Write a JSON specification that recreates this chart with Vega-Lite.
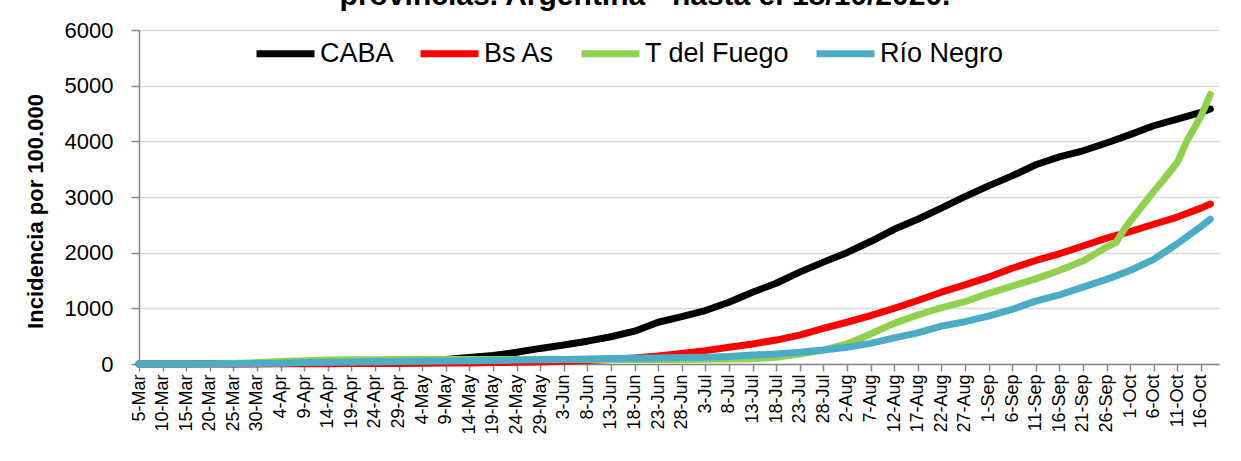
{
  "$schema": "https://vega.github.io/schema/vega-lite/v6.json",
  "width": 1080,
  "height": 334,
  "autosize": {"type": "none"},
  "padding": {"left": 139, "top": 30, "right": 22, "bottom": 97},
  "background": "white",
  "title": {
    "text": "provincias. Argentina - hasta el 18/10/2020.",
    "font": "Liberation Sans",
    "fontSize": 30,
    "fontWeight": "bold",
    "color": "#000000",
    "anchor": "middle",
    "baseline": "alphabetic",
    "offset": 5,
    "dy": 21,
    "dx": -34
  },
  "data": {
    "values": [
      {"d": "2020-03-05", "CABA": 0, "Bs As": 0, "T del Fuego": 0, "Río Negro": 0},
      {"d": "2020-03-10", "CABA": 0, "Bs As": 0, "T del Fuego": 0, "Río Negro": 0},
      {"d": "2020-03-15", "CABA": 1, "Bs As": 0, "T del Fuego": 0, "Río Negro": 0},
      {"d": "2020-03-20", "CABA": 3, "Bs As": 0.5, "T del Fuego": 2, "Río Negro": 1},
      {"d": "2020-03-25", "CABA": 6, "Bs As": 1, "T del Fuego": 10, "Río Negro": 3},
      {"d": "2020-03-30", "CABA": 10, "Bs As": 2, "T del Fuego": 25, "Río Negro": 8},
      {"d": "2020-04-04", "CABA": 15, "Bs As": 3, "T del Fuego": 45, "Río Negro": 15},
      {"d": "2020-04-09", "CABA": 20, "Bs As": 5, "T del Fuego": 60, "Río Negro": 25},
      {"d": "2020-04-14", "CABA": 26, "Bs As": 6, "T del Fuego": 70, "Río Negro": 32},
      {"d": "2020-04-19", "CABA": 33, "Bs As": 8, "T del Fuego": 75, "Río Negro": 38},
      {"d": "2020-04-24", "CABA": 40, "Bs As": 9, "T del Fuego": 78, "Río Negro": 42},
      {"d": "2020-04-29", "CABA": 48, "Bs As": 11, "T del Fuego": 80, "Río Negro": 45},
      {"d": "2020-05-04", "CABA": 60, "Bs As": 13, "T del Fuego": 80, "Río Negro": 50},
      {"d": "2020-05-09", "CABA": 80, "Bs As": 16, "T del Fuego": 81, "Río Negro": 55},
      {"d": "2020-05-14", "CABA": 115, "Bs As": 20, "T del Fuego": 81, "Río Negro": 60},
      {"d": "2020-05-19", "CABA": 155, "Bs As": 25, "T del Fuego": 81, "Río Negro": 64},
      {"d": "2020-05-24", "CABA": 210, "Bs As": 30, "T del Fuego": 81, "Río Negro": 70},
      {"d": "2020-05-29", "CABA": 280, "Bs As": 38, "T del Fuego": 81, "Río Negro": 76},
      {"d": "2020-06-03", "CABA": 340, "Bs As": 48, "T del Fuego": 82, "Río Negro": 82},
      {"d": "2020-06-08", "CABA": 410, "Bs As": 62, "T del Fuego": 82, "Río Negro": 90},
      {"d": "2020-06-13", "CABA": 490, "Bs As": 80, "T del Fuego": 82, "Río Negro": 98},
      {"d": "2020-06-18", "CABA": 590, "Bs As": 110, "T del Fuego": 82, "Río Negro": 105},
      {"d": "2020-06-23", "CABA": 750, "Bs As": 145, "T del Fuego": 82, "Río Negro": 110},
      {"d": "2020-06-28", "CABA": 850, "Bs As": 190, "T del Fuego": 83, "Río Negro": 115},
      {"d": "2020-07-03", "CABA": 960, "Bs As": 240, "T del Fuego": 85, "Río Negro": 122},
      {"d": "2020-07-08", "CABA": 1110, "Bs As": 300, "T del Fuego": 88, "Río Negro": 135},
      {"d": "2020-07-13", "CABA": 1290, "Bs As": 360, "T del Fuego": 95, "Río Negro": 160},
      {"d": "2020-07-18", "CABA": 1450, "Bs As": 430, "T del Fuego": 120, "Río Negro": 180},
      {"d": "2020-07-23", "CABA": 1650, "Bs As": 520, "T del Fuego": 180, "Río Negro": 210},
      {"d": "2020-07-28", "CABA": 1830, "Bs As": 640, "T del Fuego": 250, "Río Negro": 250},
      {"d": "2020-08-02", "CABA": 2000, "Bs As": 750, "T del Fuego": 360, "Río Negro": 300},
      {"d": "2020-08-07", "CABA": 2200, "Bs As": 870, "T del Fuego": 540, "Río Negro": 370},
      {"d": "2020-08-12", "CABA": 2420, "Bs As": 1000, "T del Fuego": 730, "Río Negro": 470},
      {"d": "2020-08-17", "CABA": 2600, "Bs As": 1140, "T del Fuego": 880, "Río Negro": 560},
      {"d": "2020-08-22", "CABA": 2800, "Bs As": 1290, "T del Fuego": 1010, "Río Negro": 680},
      {"d": "2020-08-27", "CABA": 3005, "Bs As": 1420, "T del Fuego": 1119, "Río Negro": 760},
      {"d": "2020-09-01", "CABA": 3200, "Bs As": 1560, "T del Fuego": 1270, "Río Negro": 860},
      {"d": "2020-09-06", "CABA": 3380, "Bs As": 1720, "T del Fuego": 1400, "Río Negro": 980},
      {"d": "2020-09-11", "CABA": 3580, "Bs As": 1860, "T del Fuego": 1530, "Río Negro": 1130},
      {"d": "2020-09-16", "CABA": 3720, "Bs As": 1980, "T del Fuego": 1680, "Río Negro": 1240},
      {"d": "2020-09-21", "CABA": 3830, "Bs As": 2120, "T del Fuego": 1850, "Río Negro": 1380},
      {"d": "2020-09-26", "CABA": 3970, "Bs As": 2260, "T del Fuego": 2100, "Río Negro": 1520},
      {"d": "2020-09-28", "T del Fuego": 2180},
      {"d": "2020-09-30", "T del Fuego": 2450},
      {"d": "2020-10-01", "CABA": 4120, "Bs As": 2380, "T del Fuego": 2560, "Río Negro": 1680},
      {"d": "2020-10-06", "CABA": 4280, "Bs As": 2510, "T del Fuego": 3100, "Río Negro": 1880},
      {"d": "2020-10-08", "T del Fuego": 3300},
      {"d": "2020-10-11", "CABA": 4400, "Bs As": 2640, "T del Fuego": 3620, "Río Negro": 2160},
      {"d": "2020-10-13", "T del Fuego": 4000},
      {"d": "2020-10-16", "CABA": 4520, "Bs As": 2800, "T del Fuego": 4450, "Río Negro": 2470},
      {"d": "2020-10-18", "CABA": 4580, "Bs As": 2874, "T del Fuego": 4843, "Río Negro": 2600}
    ]
  },
  "transform": [
    {"fold": ["CABA", "Bs As", "T del Fuego", "Río Negro"], "as": ["serie", "v"]},
    {"filter": "isValid(datum.v)"}
  ],
  "mark": {"type": "line", "strokeWidth": 7, "strokeCap": "round", "strokeJoin": "round", "clip": false},
  "encoding": {
    "x": {
      "field": "d",
      "type": "temporal",
      "scale": {"type": "utc", "domain": [1583366400000, 1603137600000]},
      "axis": {
        "title": null,
        "labelExpr": "utcFormat(datum.value, '%-d-%b')",
        "values": [1583366400000, 1583798400000, 1584230400000, 1584662400000, 1585094400000, 1585526400000, 1585958400000, 1586390400000, 1586822400000, 1587254400000, 1587686400000, 1588118400000, 1588550400000, 1588982400000, 1589414400000, 1589846400000, 1590278400000, 1590710400000, 1591142400000, 1591574400000, 1592006400000, 1592438400000, 1592870400000, 1593302400000, 1593734400000, 1594166400000, 1594598400000, 1595030400000, 1595462400000, 1595894400000, 1596326400000, 1596758400000, 1597190400000, 1597622400000, 1598054400000, 1598486400000, 1598918400000, 1599350400000, 1599782400000, 1600214400000, 1600646400000, 1601078400000, 1601510400000, 1601942400000, 1602374400000, 1602806400000],
        "labelAngle": -90,
        "labelFont": "Liberation Sans",
        "labelFontSize": 18,
        "labelColor": "#000000",
        "labelPadding": 3,
        "labelOverlap": false,
        "labelFlush": false,
        "grid": false,
        "domainColor": "#868686",
        "domainWidth": 1.5,
        "tickColor": "#868686",
        "tickWidth": 1.5,
        "tickSize": 7
      }
    },
    "y": {
      "field": "v",
      "type": "quantitative",
      "scale": {"domain": [0, 6000], "nice": false},
      "axis": {
        "values": [0, 1000, 2000, 3000, 4000, 5000, 6000],
        "format": "d",
        "title": "Incidencia por 100.000",
        "titleFont": "Liberation Sans",
        "titleFontSize": 22,
        "titleFontWeight": "bold",
        "titleColor": "#000000",
        "titleAngle": -90,
        "titleX": -104,
        "titleY": 181,
        "titleAlign": "center",
        "titleBaseline": "middle",
        "labelFont": "Liberation Sans",
        "labelFontSize": 22,
        "labelColor": "#000000",
        "labelPadding": 18,
        "labelFlush": false,
        "grid": true,
        "gridColor": "#d9d9d9",
        "gridWidth": 1.5,
        "domainColor": "#868686",
        "domainWidth": 1.5,
        "tickColor": "#868686",
        "tickWidth": 1.5,
        "tickSize": 8
      }
    },
    "color": {
      "field": "serie",
      "type": "nominal",
      "scale": {"domain": ["CABA", "Bs As", "T del Fuego", "Río Negro"], "range": ["#000000", "#ff0000", "#92d050", "#4bacc6"]},
      "legend": {
        "title": null,
        "orient": "none",
        "direction": "horizontal",
        "legendX": 114,
        "legendY": -9,
        "symbolType": "stroke",
        "symbolSize": 3364,
        "symbolStrokeWidth": 7,
        "labelFont": "Liberation Sans",
        "labelFontSize": 27,
        "labelColor": "#000000",
        "labelOffset": 2,
        "columnPadding": 12,
        "labelLimit": 400
      }
    }
  },
  "config": {
    "view": {"stroke": null}
  }
}
